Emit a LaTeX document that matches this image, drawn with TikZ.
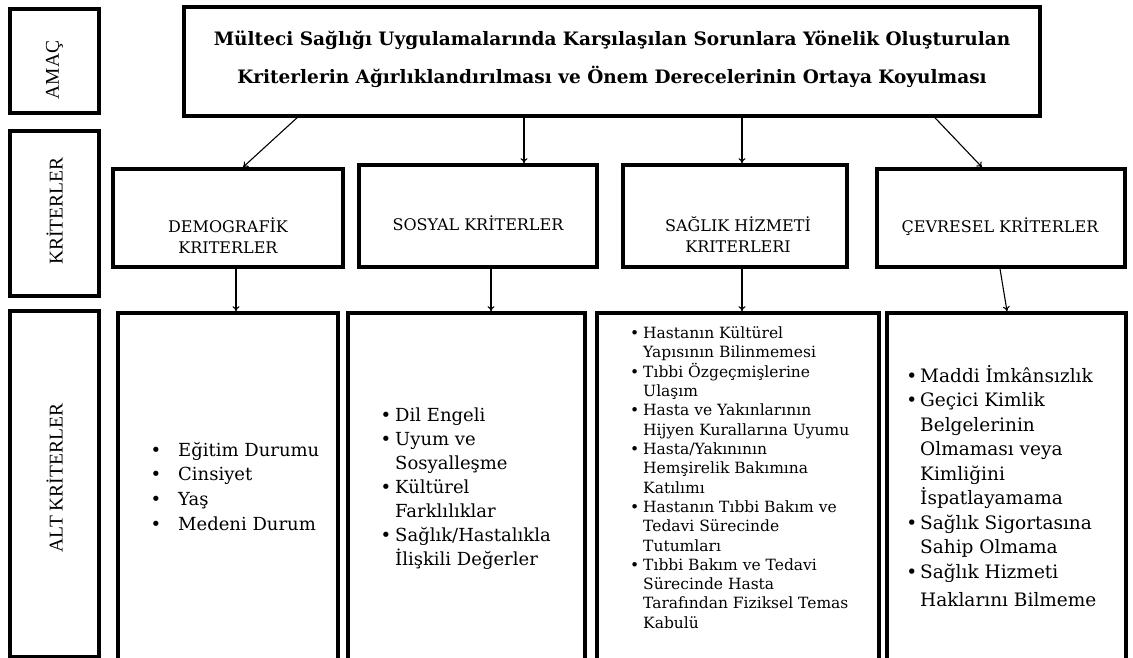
\documentclass[tikz,border=0pt]{standalone}
\usepackage{fontspec}
\setmainfont{DejaVu Serif}
\newfontfamily\timesf{Liberation Serif}
\usetikzlibrary{arrows.meta}
\newcommand\bulx[1]{\llap{\textbullet\hspace{#1}}}
\begin{document}
\begin{tikzpicture}[x=1pt,y=-1pt,
  box/.style={draw,line width=3.6pt,rectangle,inner sep=0pt},
  arr/.style={-{To[length=5pt,width=7pt]},line width=1.1pt},
  side/.style={font=\timesf\fontsize{19.5}{22}\selectfont,rotate=90,inner sep=0pt},
  crit/.style={font=\fontsize{16}{21}\selectfont,align=center,inner sep=0pt},
  lst/.style={anchor=base west,inner sep=0pt}]
\useasboundingbox (0,0) rectangle (1133,658);
% left labels
\node[box,minimum width=89pt,minimum height=104pt] (bamac) at (54.5,61) {};
\node[box,minimum width=89pt,minimum height=165pt] (bkrit) at (54.5,213.5) {};
\node[box,minimum width=89pt,minimum height=346pt] (balt) at (54.5,484) {};
\node[side] (tamac) at (54.5,70) {AMAÇ};
\node[side] (tkrit) at (54.5,211) {KRİTERLER};
\node[side] (talt) at (54.5,478) {ALT KRİTERLER};
% goal
\node[box,minimum width=856pt,minimum height=109pt] (goal) at (612,61.5) {};
\node[font=\bfseries\fontsize{18.5}{38}\selectfont,align=center,inner sep=0pt] (goaltext) at (612,59)
  {Mülteci Sağlığı Uygulamalarında Karşılaşılan Sorunlara Yönelik Oluşturulan\\
   Kriterlerin Ağırlıklandırılması ve Önem Derecelerinin Ortaya Koyulması};
% criteria
\node[box,minimum width=230pt,minimum height=98pt] (demo) at (228,218) {};
\node[box,minimum width=238pt,minimum height=102pt] (sos) at (478,216) {};
\node[box,minimum width=224pt,minimum height=102pt] (sag) at (735,216) {};
\node[box,minimum width=248pt,minimum height=98pt] (cev) at (1001,218) {};
\node[crit] (demot) at (228,236) {DEMOGRAFİK\\KRITERLER};
\node[crit] (sost) at (478,223) {SOSYAL KRİTERLER};
\node[crit] (sagt) at (738,234.5) {SAĞLIK HİZMETİ\\KRITERLERI};
\node[crit] (cevt) at (1000,227) {ÇEVRESEL KRİTERLER};
% sub boxes
\node[box,minimum width=220pt,minimum height=349pt] (s1) at (228,487.5) {};
\node[box,minimum width=237pt,minimum height=349pt] (s2) at (466.5,487.5) {};
\node[box,minimum width=282pt,minimum height=349pt] (s3) at (738,487.5) {};
\node[box,minimum width=239pt,minimum height=349pt] (s4) at (1006.5,487.5) {};
% arrows
\draw[arr] (goal.south -| 297,0) -- (demo.north -| 243,0);
\draw[arr] (goal.south -| 524,0) -- (sos.north -| 524,0);
\draw[arr] (goal.south -| 742,0) -- (sag.north -| 742,0);
\draw[arr] (goal.south -| 935,0) -- (cev.north -| 982,0);
\draw[arr] (demo.south -| 236,0) -- (s1.north -| 236,0);
\draw[arr] (sos.south -| 491,0) -- (s2.north -| 491,0);
\draw[arr] (sag.south -| 742,0) -- (s3.north -| 742,0);
\draw[arr] (cev.south -| 1000,0) -- (s4.north -| 1007,0);
% lists
\node[lst] (l1) at (178,456) {\fontsize{18}{24.7}\selectfont
 \begin{tabular}[t]{@{}l@{}}
 \bulx{17pt}Eğitim Durumu\\
 \bulx{17pt}Cinsiyet\\
 \bulx{17pt}Yaş\\
 \bulx{17pt}Medeni Durum
 \end{tabular}};
\node[lst] (l2) at (395,421) {\fontsize{18}{24}\selectfont
 \begin{tabular}[t]{@{}l@{}}
 \bulx{4pt}Dil Engeli\\
 \bulx{4pt}Uyum ve\\
 Sosyalleşme\\
 \bulx{4pt}Kültürel\\
 Farklılıklar\\
 \bulx{4pt}Sağlık/Hastalıkla\\
 İlişkili Değerler
 \end{tabular}};
\node[lst] (l3) at (643,338) {\fontsize{15.5}{19.3}\selectfont
 \begin{tabular}[t]{@{}l@{}}
 \bulx{4pt}Hastanın Kültürel\\
 Yapısının Bilinmemesi\\
 \bulx{4pt}Tıbbi Özgeçmişlerine\\
 Ulaşım\\
 \bulx{4pt}Hasta ve Yakınlarının\\
 Hijyen Kurallarına Uyumu\\
 \bulx{4pt}Hasta/Yakınının\\
 Hemşirelik Bakımına\\
 Katılımı\\
 \bulx{4pt}Hastanın Tıbbi Bakım ve\\
 Tedavi Sürecinde\\
 Tutumları\\
 \bulx{4pt}Tıbbi Bakım ve Tedavi\\
 Sürecinde Hasta\\
 Tarafından Fiziksel Temas\\
 Kabulü
 \end{tabular}};
\node[lst] (l4) at (920,382) {\fontsize{18.5}{24.5}\selectfont
 \begin{tabular}[t]{@{}l@{}}
 \bulx{3pt}Maddi İmkânsızlık\\
 \bulx{3pt}Geçici Kimlik\\
 Belgelerinin\\
 Olmaması veya\\
 Kimliğini\\
 İspatlayamama\\
 \bulx{3pt}Sağlık Sigortasına\\
 Sahip Olmama\\
 \bulx{3pt}Sağlık Hizmeti\\[4pt]
 Haklarını Bilmeme
 \end{tabular}};
\end{tikzpicture}
\end{document}
